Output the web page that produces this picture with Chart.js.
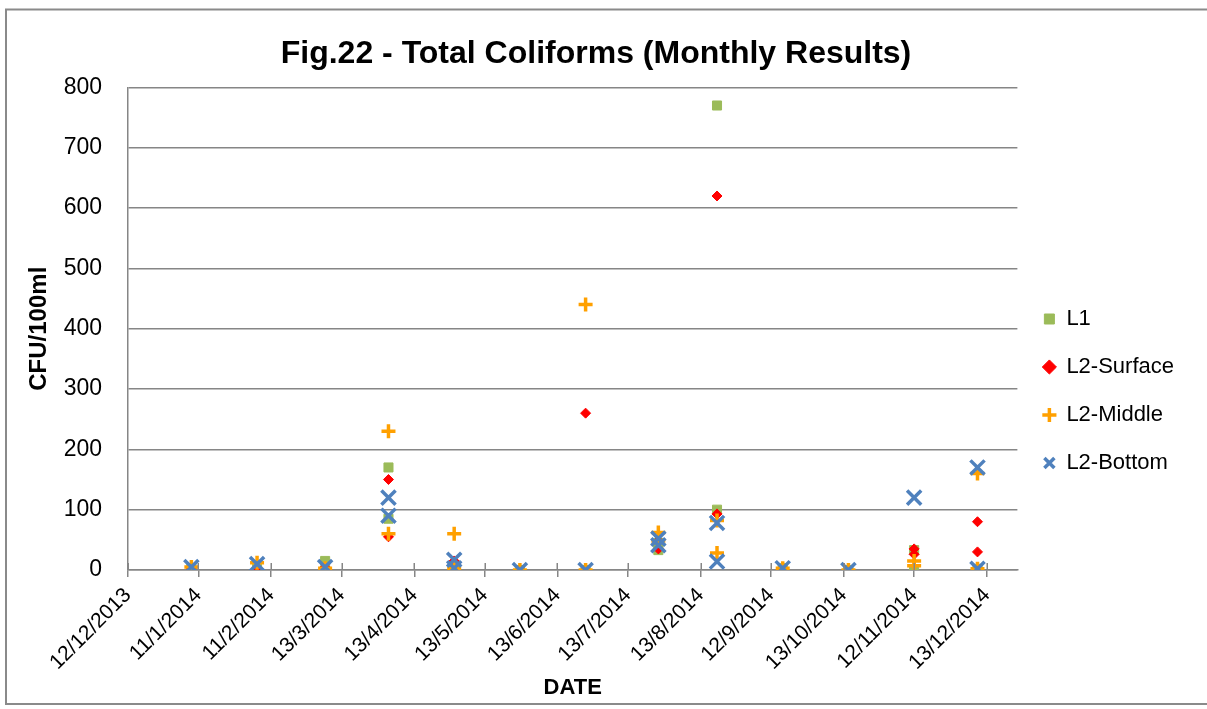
<!DOCTYPE html>
<html>
<head>
<meta charset="utf-8">
<title>Fig.22 - Total Coliforms (Monthly Results)</title>
<script src="https://cdn.jsdelivr.net/npm/chart.js@4.4.1/dist/chart.umd.min.js"></script>
<style>
  html, body { margin: 0; padding: 0; background: #fff; }
  canvas { display: block; }
</style>
</head>
<body>
<canvas id="chart" width="1207" height="709"></canvas>
<script>
// etiquettes de l'axe des dates (jj/mm/aaaa)
const tickLabels = ['12/12/2013', '11/1/2014', '11/2/2014', '13/3/2014', '13/4/2014', '13/5/2014',
  '13/6/2014', '13/7/2014', '13/8/2014', '12/9/2014', '13/10/2014', '12/11/2014', '13/12/2014'];
const axisEnd = '26/12/2014';

// dates des prelevements (certains jours ont deux resultats)
const sampleDates = ['8/1/2014', '5/2/2014', '6/3/2014', '2/4/2014', '2/4/2014', '30/4/2014', '30/4/2014',
  '28/5/2014', '25/6/2014', '25/6/2014', '26/7/2014', '26/7/2014', '20/8/2014', '20/8/2014',
  '17/9/2014', '15/10/2014', '12/11/2014', '12/11/2014', '9/12/2014', '9/12/2014'];

// valeurs CFU/100ml par serie
const l1Values      = [3, 2, 15, 170, 85, 8, 2, 0, null, 0, 45, 33, 770, 100, 3, 0, 33, 0, 2, null];
const surfaceValues = [2, 3, 5, 150, 55, 15, 3, 0, 260, 0, 48, 35, 620, 93, 3, 0, 35, 26, 80, 30];
const middleValues  = [5, 12, 3, 230, 60, 60, 2, 0, 440, 0, 62, 48, 82, 28, 3, 0, 15, 7, 160, 2];
const bottomValues  = [5, 10, 5, 120, 90, 17, 3, 0, 0, null, 52, 41, 78, 14, 3, 0, 120, null, 170, 2];

// jours depuis le 12/12/2013
function dayOf(str) {
  const [d, m, y] = str.split('/').map(Number);
  return (Date.UTC(y, m - 1, d) - Date.UTC(2013, 11, 12)) / 86400000;
}
const tickDays = tickLabels.map(dayOf);

function toPoints(values) {
  return sampleDates
    .map((d, i) => ({ x: dayOf(d), y: values[i] }))
    .filter(p => p.y !== null);
}

Chart.defaults.font.family = "'Liberation Sans', Arial, sans-serif";
Chart.defaults.color = '#000';

const gridColor = '#868686';

// cadre gris autour du graphe + petits traits au dessus de l'axe x (graduations croisees)
const frame = {
  id: 'frame',
  beforeDraw(chart) {
    const ctx = chart.ctx;
    ctx.save();
    ctx.fillStyle = '#fff';
    ctx.fillRect(0, 0, chart.width, chart.height);
    ctx.strokeStyle = '#8a8a8a';
    ctx.lineWidth = 2;
    ctx.strokeRect(6, 9.5, chart.width + 20, 694.5);
    ctx.restore();
  },
  afterDatasetsDraw(chart) {
    const ctx = chart.ctx;
    const x = chart.scales.x;
    const bottom = chart.chartArea.bottom;
    ctx.save();
    ctx.strokeStyle = gridColor;
    ctx.lineWidth = 1.5;
    x.ticks.forEach(t => {
      const px = Math.round(x.getPixelForValue(t.value)) + 0.25;
      ctx.beginPath();
      ctx.moveTo(px, bottom - 7);
      ctx.lineTo(px, bottom);
      ctx.stroke();
    });
    ctx.restore();
  }
};

new Chart(document.getElementById('chart'), {
  type: 'scatter',
  data: {
    datasets: [{
      label: 'L1',
      data: toPoints(l1Values),
      pointStyle: 'rect',
      pointRadius: 6.4,
      pointHoverRadius: 6.4,
      pointBorderWidth: 1,
      pointBackgroundColor: '#9BBB59',
      pointBorderColor: '#9BBB59',
      backgroundColor: '#9BBB59',
      borderColor: '#9BBB59',
      order: 4
    }, {
      label: 'L2-Surface',
      data: toPoints(surfaceValues),
      pointStyle: 'rectRot',
      pointRadius: 5,
      pointHoverRadius: 5,
      pointBorderWidth: 1,
      pointBackgroundColor: '#FF0000',
      pointBorderColor: '#FF0000',
      backgroundColor: '#FF0000',
      borderColor: '#FF0000',
      order: 3
    }, {
      label: 'L2-Middle',
      data: toPoints(middleValues),
      pointStyle: 'cross',
      pointRadius: 7,
      pointHoverRadius: 7,
      pointBorderWidth: 3.5,
      pointBorderColor: '#FFA000',
      pointBackgroundColor: '#FFA000',
      backgroundColor: '#FFA000',
      borderColor: '#FFA000',
      order: 2
    }, {
      label: 'L2-Bottom',
      data: toPoints(bottomValues),
      pointStyle: 'crossRot',
      pointRadius: 10,
      pointHoverRadius: 10,
      pointBorderWidth: 3.5,
      pointBorderColor: '#4F81BD',
      pointBackgroundColor: '#4F81BD',
      backgroundColor: '#4F81BD',
      borderColor: '#4F81BD',
      order: 1
    }]
  },
  options: {
    responsive: false,
    animation: false,
    devicePixelRatio: 1,
    layout: { padding: { left: 8, right: 23, top: 10, bottom: 8 } },
    plugins: {
      title: {
        display: true,
        text: 'Fig.22 - Total Coliforms (Monthly Results)',
        font: { size: 32, weight: 'bold' },
        color: '#000',
        padding: { top: 25, bottom: 14 }
      },
      legend: {
        position: 'right',
        align: 'center',
        // titre vide pour descendre la legende
        title: { display: true, text: '', font: { size: 10 }, padding: { top: 59, bottom: 0 } },
        labels: {
          usePointStyle: true,
          boxWidth: 12,
          boxHeight: 10,
          padding: 26,
          font: { size: 22 },
          color: '#000',
          sort: (a, b) => a.datasetIndex - b.datasetIndex
        }
      },
      tooltip: { enabled: false }
    },
    scales: {
      x: {
        type: 'linear',
        min: 0,
        max: dayOf(axisEnd),
        afterBuildTicks: scale => { scale.ticks = tickDays.map(v => ({ value: v })); },
        afterFit: scale => { scale.height = 131; },
        ticks: {
          callback: (value, index) => tickLabels[index],
          minRotation: 45,
          maxRotation: 45,
          autoSkip: false,
          padding: 6,
          font: { size: 21 },
          color: '#000'
        },
        grid: { drawOnChartArea: false, color: gridColor, lineWidth: 1.5, tickLength: 7 },
        border: { color: gridColor, width: 1.5 },
        title: {
          display: true,
          text: 'DATE',
          font: { size: 22, weight: 'bold' },
          color: '#000',
          padding: { top: 0, bottom: 0 }
        }
      },
      y: {
        min: 0,
        max: 800,
        afterFit: scale => { scale.width = 120; },
        ticks: { stepSize: 100, padding: 26, font: { size: 23 }, color: '#000' },
        grid: { color: gridColor, lineWidth: 1.5, drawTicks: false },
        border: { color: gridColor, width: 1.5 },
        title: {
          display: true,
          text: 'CFU/100ml',
          font: { size: 24, weight: 'bold' },
          color: '#000',
          padding: { top: 17, bottom: 0 }
        }
      }
    }
  },
  plugins: [frame]
});
</script>
</body>
</html>
